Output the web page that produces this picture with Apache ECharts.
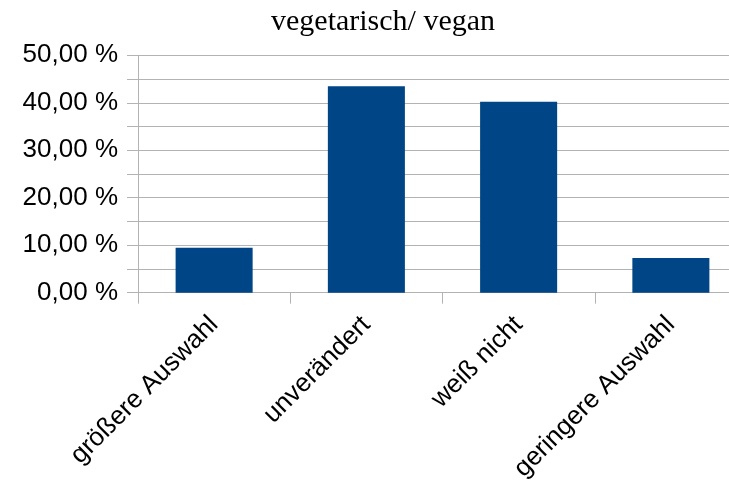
<!DOCTYPE html>
<html>
<head>
<meta charset="utf-8">
<script src="https://cdn.jsdelivr.net/npm/echarts@6/dist/echarts.min.js"></script>
<style>html,body{margin:0;padding:0;background:#fff}#c{width:729px;height:486px}</style>
</head>
<body>
<div id="c"></div>
<script>
const chartTitle = 'vegetarisch/ vegan';
const categories = ['größere Auswahl', 'unverändert', 'weiß nicht', 'geringere Auswahl'];
const values = [9.49, 43.46, 40.23, 7.32];
const yTicks = [0, 10, 20, 30, 40, 50];

const chart = echarts.init(document.getElementById('c'), null, {renderer: 'canvas'});
chart.setOption({
  backgroundColor: '#ffffff',
  animation: false,
  title: {
    text: chartTitle,
    left: 266,
    top: 2,
    textStyle: {fontFamily: 'Liberation Serif', fontSize: 30, fontWeight: 'normal', color: '#000'}
  },
  grid: {left: 138, top: 55.3, width: 609, bottom: 193.3, containLabel: false, outerBoundsMode: 'none'},
  xAxis: {
    type: 'category',
    data: categories,
    boundaryGap: true,
    axisLine: {show: true, lineStyle: {color: '#b3b3b3', width: 1}},
    axisTick: {show: true, length: 11, lineStyle: {color: '#b3b3b3'}},
    axisLabel: {
      rotate: 45, interval: 0, margin: 28,
      fontFamily: 'Liberation Sans', fontSize: 26, color: '#000'
    },
    splitLine: {show: false}
  },
  yAxis: {
    type: 'value',
    min: 0, max: 50, interval: 5,
    axisLine: {show: true, lineStyle: {color: '#b3b3b3', width: 1}},
    axisTick: {show: true, length: 11, lineStyle: {color: '#b3b3b3'}},
    axisLabel: {
      margin: 20,
      fontFamily: 'Liberation Sans', fontSize: 26, color: '#000',
      formatter: function (v) {
        return yTicks.indexOf(v) >= 0 ? v.toFixed(2).replace('.', ',') + ' %' : '';
      }
    },
    splitLine: {show: true, lineStyle: {color: '#b3b3b3', width: 1}}
  },
  series: [{
    type: 'bar',
    data: values,
    barWidth: '50.6%',
    itemStyle: {color: '#004586'}
  }]
});
</script>
</body>
</html>
